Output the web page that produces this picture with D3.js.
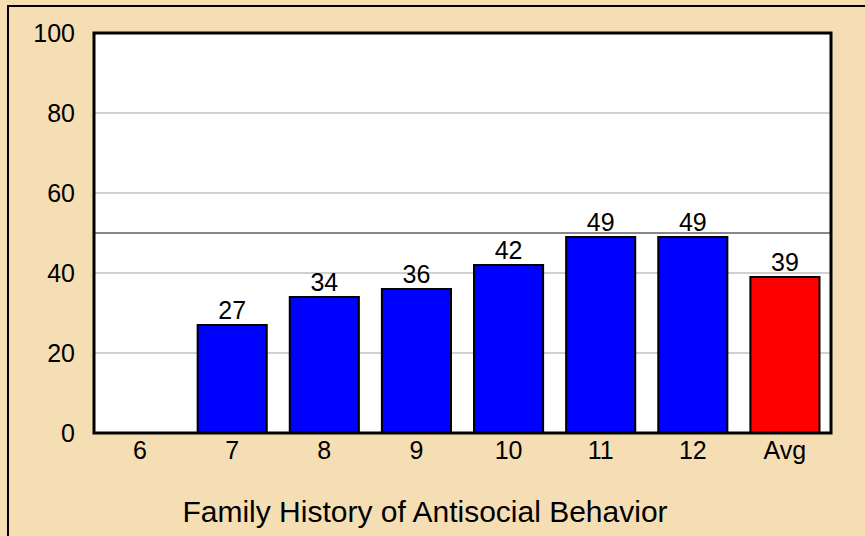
<!DOCTYPE html>
<html>
<head>
<meta charset="utf-8">
<script src="https://cdn.jsdelivr.net/npm/d3@7"></script>
<style>
  body { margin: 0; background: #f5deb3; }
  text { font-family: "Liberation Sans", Arial, sans-serif; fill: #000; }
</style>
</head>
<body>
<svg id="chart" width="865" height="536"></svg>
<script>
// chart data
var categories = ["6", "7", "8", "9", "10", "11", "12", "Avg"];
var values = [null, 27, 34, 36, 42, 49, 49, 39];
var yTicks = [0, 20, 40, 60, 80, 100];
var gridLines = [20, 40, 60, 80];
var refLine = 50;
var xTitle = "Family History of Antisocial Behavior";

var svg = d3.select("#chart");
var plotL = 94, plotR = 831, plotT = 33, plotB = 433;

// outer frame
svg.append("rect")
	.attr("x", 8).attr("y", 6)
	.attr("width", 900).attr("height", 600)
	.attr("fill", "#f5deb3")
	.attr("stroke", "#000").attr("stroke-width", 2);

var x = d3.scaleBand().domain(categories).range([plotL, plotR]).paddingInner(0.25).paddingOuter(0.125);
var y = d3.scaleLinear().domain([0, 100]).range([plotB, plotT]);

svg.append("rect")
	.attr("x", plotL).attr("y", plotT)
	.attr("width", plotR - plotL).attr("height", plotB - plotT)
	.attr("fill", "#fff");

svg.selectAll(".grid")
	.data(gridLines)
	.enter().append("line")
		.attr("x1", plotL).attr("x2", plotR)
		.attr("y1", function(d) { return y(d); })
		.attr("y2", function(d) { return y(d); })
		.attr("stroke", "#d0d0d0").attr("stroke-width", 2);

svg.append("line")
	.attr("x1", plotL).attr("x2", plotR)
	.attr("y1", y(refLine)).attr("y2", y(refLine))
	.attr("stroke", "#888888").attr("stroke-width", 2);

var data = categories.map(function(c, i) { return {cat: c, val: values[i]}; })
	.filter(function(d) { return d.val != null; });

svg.selectAll(".bar")
	.data(data)
	.enter().append("rect")
		.attr("x", function(d) { return x(d.cat); })
		.attr("y", function(d) { return y(d.val); })
		.attr("width", x.bandwidth())
		.attr("height", function(d) { return y(0) - y(d.val); })
		.attr("fill", function(d) { return d.cat == "Avg" ? "#ff0000" : "#0000ff"; })
		.attr("stroke", "#000").attr("stroke-width", 2);

svg.selectAll(".val")
	.data(data)
	.enter().append("text")
		.attr("x", function(d) { return x(d.cat) + x.bandwidth() / 2; })
		.attr("y", function(d) { return y(d.val) - 6; })
		.attr("text-anchor", "middle")
		.attr("font-size", 25)
		.text(function(d) { return d.val; });

// plot border
svg.append("rect")
	.attr("x", plotL).attr("y", plotT)
	.attr("width", plotR - plotL).attr("height", plotB - plotT)
	.attr("fill", "none")
	.attr("stroke", "#000").attr("stroke-width", 3);

svg.selectAll(".ylab")
	.data(yTicks)
	.enter().append("text")
		.attr("x", 75)
		.attr("y", function(d) { return y(d); })
		.attr("dy", "0.36em")
		.attr("text-anchor", "end")
		.attr("font-size", 25)
		.text(function(d) { return d; });

svg.selectAll(".xlab")
	.data(categories)
	.enter().append("text")
		.attr("x", function(d) { return x(d) + x.bandwidth() / 2; })
		.attr("y", 459)
		.attr("text-anchor", "middle")
		.attr("font-size", 25)
		.text(function(d) { return d; });

svg.append("text")
	.attr("x", 425).attr("y", 522)
	.attr("text-anchor", "middle")
	.attr("font-size", 30)
	.text(xTitle);
</script>
</body>
</html>
